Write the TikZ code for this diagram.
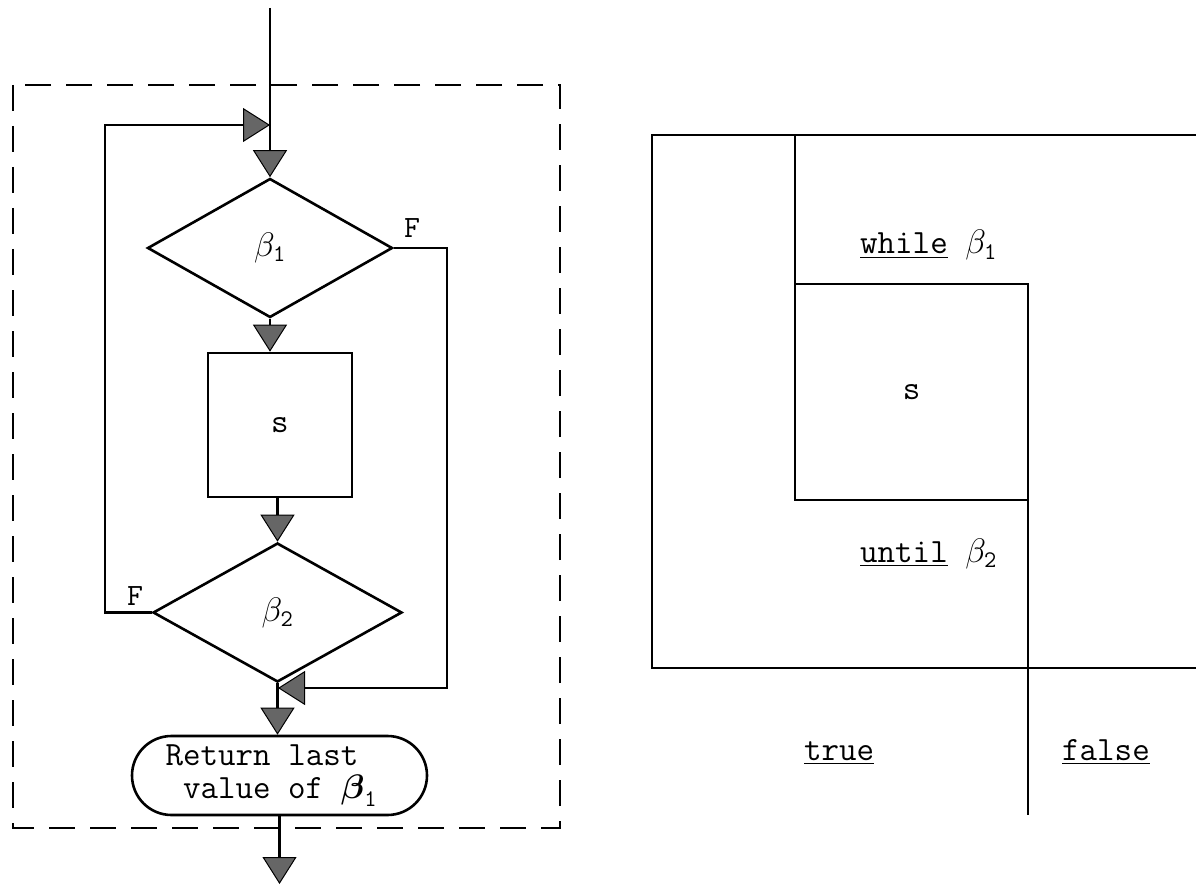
\RequirePackage{fix-cm}
\documentclass[tikz,border=0pt]{standalone}
\usepackage{amsmath}
\usepackage{tikz}
\usetikzlibrary{positioning,calc,arrows.meta,shapes.geometric,shapes.misc}
\tikzset{
  flowfont/.style={font=\fontsize{34}{33}\selectfont\ttfamily},
  flowline/.style={line width=2.6pt},
  flowarrow/.style={flowline, -{Triangle[length=27pt,width=34pt,line width=1pt,fill=black!60]}},
  decision/.style={diamond, draw, flowline, inner sep=0pt},
  procbox/.style={rectangle, draw, flowline, inner sep=0pt},
  termbox/.style={rounded rectangle, draw, flowline, align=left, inner sep=0pt},
  framebox/.style={line width=2pt, dash pattern=on 26pt off 15pt},
  flaglabel/.style={font=\fontsize{31}{33}\selectfont\ttfamily, inner sep=0pt, anchor=base west},
  nslabel/.style={inner sep=0pt, anchor=base west},
}
\begin{document}
\begin{tikzpicture}[x=1pt,y=-1pt,flowfont]
		\useasboundingbox (0,0) rectangle (1196,885);

		% Left: flowchart of the loop
		\draw[framebox] (13,85) rectangle (560,828);
		\node[decision, minimum width=245pt, minimum height=139pt] (b1) at (270,248) {$\beta_{\texttt{1}}$};
		\node[procbox, minimum width=144pt, minimum height=144pt] (body) at (280,425) {s};
		\node[decision, minimum width=249pt, minimum height=139pt] (b2) at (277.5,612.5) {$\beta_{\texttt{2}}$};
		\node[termbox, minimum width=295pt, minimum height=79pt] (ret) at (279.5,775.5)
		{Return last\phantom{xx}\\\phantom{x}value of $\boldsymbol{\beta}_{\texttt{1}}$};
		\node[flaglabel] (f1) at (404,238) {F};
		\node[flaglabel] (f2) at (127,605) {F};

		\coordinate (entry) at (270,8);
		\coordinate (joinA) at (270,125);
		\coordinate (loopc) at (105,125);
		\coordinate (retc) at (447,688);
		\coordinate (joinB) at (278,688);
		\coordinate (exit) at (280,884);

		\draw[flowarrow] (entry) -- (b1.north);
		\draw[flowarrow] (b2.west) -| (loopc) -- (joinA);
		\draw[flowarrow] (b1.south) -- (b1.south |- body.north);
		\draw[flowarrow] (b2.north |- body.south) -- (b2.north);
		\draw[flowarrow] (b1.east) -| (retc) -- (joinB);
		\draw[flowarrow] (b2.south) -- (b2.south |- ret.north);
		\draw[flowarrow] (ret.south) -- (ret.south |- exit);

		% Right: the same loop as a structure chart
		\draw[flowline] (1196,135) -- (652,135) -- (652,668) -- (1196,668);
		\draw[flowline] (795,135) -- (795,284);
		\node[procbox, outer sep=0pt, minimum width=233pt, minimum height=216pt, anchor=north west] (nsbody) at (795,284) {s};
		\coordinate (nsend) at (1028,815);
		\draw[flowline] (nsbody.south east) -- (nsbody.south east |- nsend);
		\node[nslabel] (whilelbl) at (860,254) {\underline{while} $\beta_{\texttt{1}}$};
		\node[nslabel] (untillbl) at (860,562) {\underline{until} $\beta_{\texttt{2}}$};
		\node[nslabel] (truelbl) at (804,760) {\underline{true}};
		\node[nslabel] (falselbl) at (1062,760) {\underline{false}};
	\end{tikzpicture}
\end{document}
